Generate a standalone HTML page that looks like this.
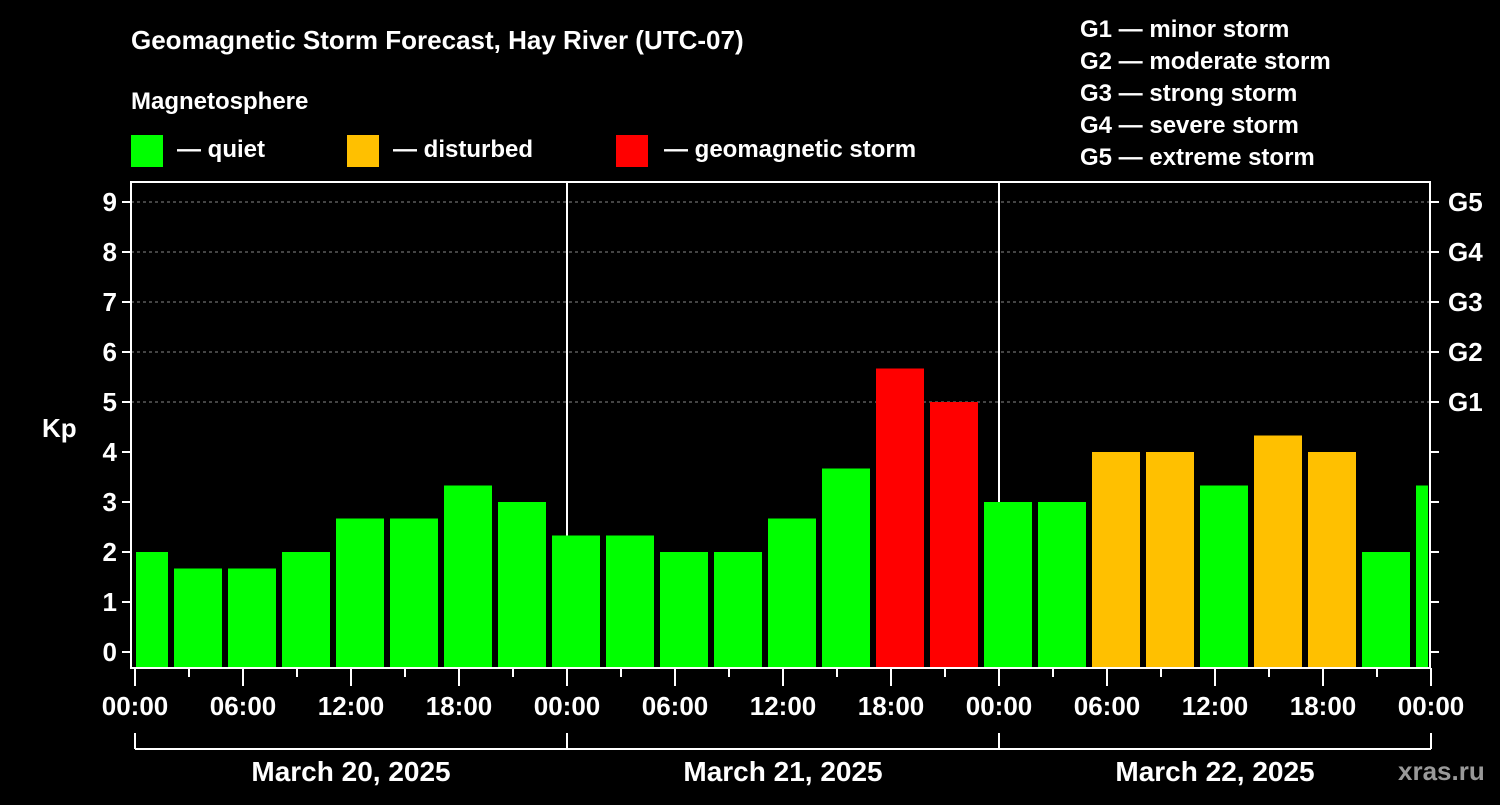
<!DOCTYPE html>
<html><head><meta charset="utf-8"><style>
html,body{margin:0;padding:0;background:#000;}
svg text{font-family:"Liberation Sans",Arial,sans-serif;font-weight:bold;fill:#fff;}
</style></head><body>
<svg id="chart" width="1500" height="800" viewBox="0 0 1500 800" xmlns="http://www.w3.org/2000/svg">
<rect width="1500" height="800" fill="#000"/>
<text x="131" y="49" font-size="26">Geomagnetic Storm Forecast, Hay River (UTC-07)</text>
<text x="131" y="109" font-size="24">Magnetosphere</text>
<g><rect x="131" y="135" width="32" height="32" fill="#00ff00"/><text x="177" y="157" font-size="24">— quiet</text></g>
<g><rect x="347" y="135" width="32" height="32" fill="#ffc000"/><text x="393" y="157" font-size="24">— disturbed</text></g>
<g><rect x="616" y="135" width="32" height="32" fill="#ff0000"/><text x="664" y="157" font-size="24">— geomagnetic storm</text></g>
<g font-size="24">
<text x="1080" y="37">G1 — minor storm</text>
<text x="1080" y="69">G2 — moderate storm</text>
<text x="1080" y="101">G3 — strong storm</text>
<text x="1080" y="133">G4 — severe storm</text>
<text x="1080" y="165">G5 — extreme storm</text>
</g>
<g id="grid"></g>
<g id="bars"></g>
<g id="axes"></g>
<text x="42" y="437" font-size="26">Kp</text>
<text x="1398" y="780" font-size="26" fill="#999" style="fill:#999">xras.ru</text>
</svg>
<script>
const kpValues=[2,1.67,1.67,2,2.67,2.67,3.33,3,2.33,2.33,2,2,2.67,3.67,5.67,5,3,3,4,4,3.33,4.33,4,2,3.33];
const barHours=[0.5,3.5,6.5,9.5,12.5,15.5,18.5,21.5,24.5,27.5,30.5,33.5,36.5,39.5,42.5,45.5,48.5,51.5,54.5,57.5,60.5,63.5,66.5,69.5,72.5];
const yTicks=[0,1,2,3,4,5,6,7,8,9];
const gLabels=["G1","G2","G3","G4","G5"];
const gLevels=[5,6,7,8,9];
const timeLabels=["00:00","06:00","12:00","18:00","00:00","06:00","12:00","18:00","00:00","06:00","12:00","18:00","00:00"];
const dayLabels=["March 20, 2025","March 21, 2025","March 22, 2025"];
const NS="http://www.w3.org/2000/svg";
const X0=135,PXH=18,L=131,R=1430,T=182,B=668;
const x=h=>X0+h*PXH;
const y=v=>652-v*50;
function mk(tag,attrs,parent){const e=document.createElementNS(NS,tag);for(const k in attrs)e.setAttribute(k,attrs[k]);parent.appendChild(e);return e;}
const grid=document.getElementById('grid'),bars=document.getElementById('bars'),axes=document.getElementById('axes');
[5,6,7,8,9].forEach(v=>{const l=mk('line',{x1:L,x2:R,y1:y(v),y2:y(v),stroke:'#888','stroke-dasharray':'3,3','stroke-width':1},grid);

});
[24,48].forEach(h=>{const l=mk('line',{x1:x(h),x2:x(h),y1:T,y2:B,stroke:'#fff','stroke-width':2},grid);

});
mk('clipPath',{id:'pc'},bars).appendChild(Object.assign(document.createElementNS(NS,'rect'),{}));
const cr=bars.querySelector('clipPath rect');cr.setAttribute('x',L+5);cr.setAttribute('y',T);cr.setAttribute('width',R-L-7);cr.setAttribute('height',B-T);
const bg=mk('g',{'clip-path':'url(#pc)'},bars);
kpValues.forEach((v,i)=>{const c=v>=5?'#ff0000':(v>=4?'#ffc000':'#00ff00');
const r=mk('rect',{x:x(barHours[i])-24,y:y(v),width:48,height:B-1-y(v),fill:c},bg);

});
mk('rect',{x:L,y:T,width:R-L,height:B-T,fill:'none',stroke:'#fff','stroke-width':2},axes);
yTicks.forEach(v=>{mk('line',{x1:L-9,x2:L,y1:y(v),y2:y(v),stroke:'#fff','stroke-width':2},axes);
mk('line',{x1:R,x2:R+9,y1:y(v),y2:y(v),stroke:'#fff','stroke-width':2},axes);
const t=mk('text',{x:L-14,y:y(v)+9,'font-size':26,'text-anchor':'end'},axes);t.textContent=v;

});
gLabels.forEach((g,i)=>{const t=mk('text',{x:1448,y:y(gLevels[i])+9,'font-size':26},axes);t.textContent=g;

});
for(let h=0;h<=72;h+=3){const major=h%6===0;mk('line',{x1:x(h),x2:x(h),y1:B,y2:B+(major?18:9),stroke:'#fff','stroke-width':2},axes);}
timeLabels.forEach((s,i)=>{const t=mk('text',{x:x(i*6),y:715,'font-size':26,'text-anchor':'middle'},axes);t.textContent=s;

});
mk('line',{x1:x(0),x2:x(72),y1:749,y2:749,stroke:'#fff','stroke-width':2},axes);
[0,24,48,72].forEach(h=>mk('line',{x1:x(h),x2:x(h),y1:733,y2:749,stroke:'#fff','stroke-width':2},axes));
dayLabels.forEach((s,i)=>{const t=mk('text',{x:x(i*24+12),y:781,'font-size':28,'text-anchor':'middle'},axes);t.textContent=s;

});
</script>
</body></html>
